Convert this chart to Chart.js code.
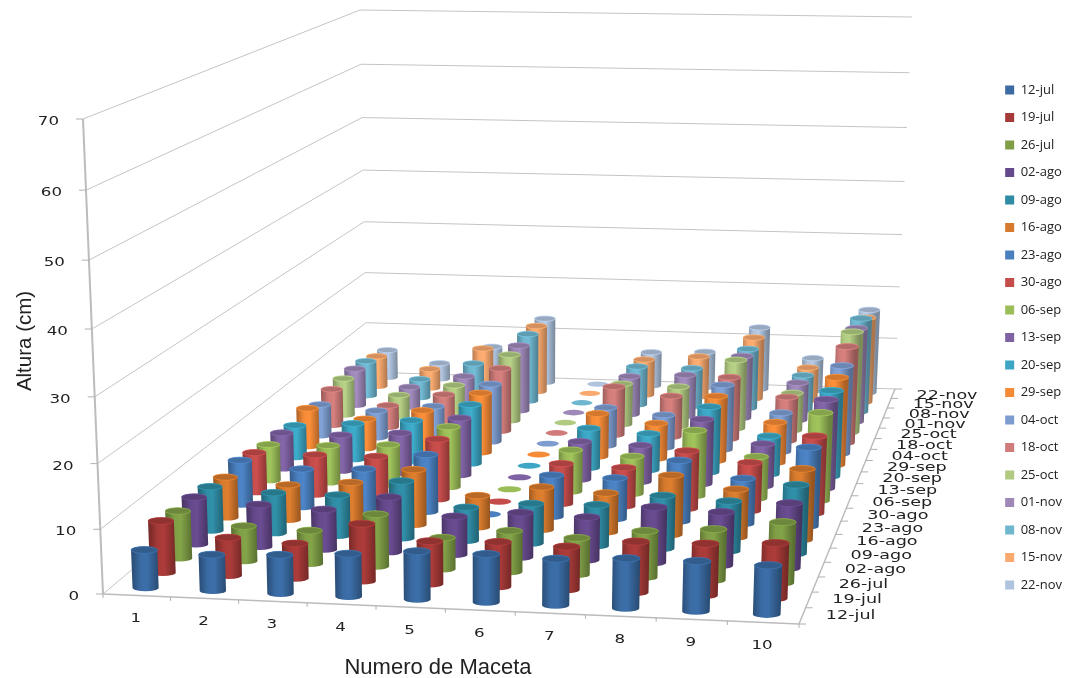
<!DOCTYPE html>
<html>
<head>
<meta charset="utf-8">
<title>Altura por maceta</title>
<script src="https://cdn.jsdelivr.net/npm/chart.js@4/dist/chart.umd.js"></script>
<style>
  html, body { margin: 0; padding: 0; background: #fff; }
  canvas { display: block; }
</style>
</head>
<body>
<canvas id="chart1" width="1066" height="678"></canvas>
<script>
const macetaLabels = ['1', '2', '3', '4', '5', '6', '7', '8', '9', '10'];
const fechas = ['12-jul', '19-jul', '26-jul', '02-ago', '09-ago', '16-ago', '23-ago', '30-ago', '06-sep', '13-sep',
  '20-sep', '29-sep', '04-oct', '18-oct', '25-oct', '01-nov', '08-nov', '15-nov', '22-nov'];
const alturaTicks = [0, 10, 20, 30, 40, 50, 60, 70];

// one list per maceta, one value per fecha (cm)
const maceta1 = [5.9, 8.2, 7.6, 7.7, 7.3, 6.8, 7.6, 6.9, 6.3, 6.4, 5.8, 7.0, 5.8, 6.8, 7.0, 7.1, 6.8, 6.0, 5.5];
const maceta2 = [5.6, 6.0, 5.6, 6.9, 6.7, 5.9, 6.5, 6.9, 6.5, 6.4, 6.5, 5.4, 5.0, 4.1, 4.2, 3.9, 3.6, 3.8, 3.2];
const maceta3 = [6.0, 5.5, 5.3, 6.5, 6.7, 6.7, 6.9, 7.0, 7.0, 7.1, 7.4, 7.3, 6.2, 6.5, 6.4, 6.3, 7.0, 8.2, 6.8];
const maceta4 = [6.6, 9.0, 8.3, 8.9, 9.4, 9.2, 9.7, 10.3, 10.5, 10.1, 10.6, 10.8, 10.6, 11.7, 12.5, 12.5, 13.0, 12.9, 12.7];
const maceta5 = [7.4, 6.7, 5.0, 6.2, 5.5, 5.3, 0, 0, 0, 0, 0, 0, 0, 0, 0, 0, 0, 0, 0];
const maceta6 = [7.4, 7.0, 6.5, 7.2, 6.5, 7.1, 7.0, 6.9, 7.2, 6.7, 7.1, 7.8, 7.0, 9.0, 7.7, 7.3, 7.4, 7.0, 6.7];
const maceta7 = [7.1, 6.7, 5.8, 6.9, 6.7, 6.5, 6.9, 6.6, 6.5, 6.4, 6.5, 6.4, 6.0, 7.6, 7.5, 7.9, 7.4, 7.9, 7.1];
const maceta8 = [7.6, 7.9, 7.3, 8.9, 8.6, 9.8, 10.2, 9.8, 11.3, 11.3, 11.6, 11.6, 11.8, 11.4, 12.8, 11.8, 11.4, 11.9, 12.2];
const maceta9 = [7.6, 8.0, 8.0, 8.5, 8.1, 7.9, 7.6, 8.2, 7.2, 7.4, 6.8, 7.3, 7.1, 8.1, 7.0, 7.1, 6.7, 6.4, 6.5];
const maceta10 = [7.4, 8.5, 9.5, 10.3, 11.1, 11.6, 13.1, 13.0, 15.0, 15.4, 15.1, 15.6, 15.9, 17.6, 18.6, 17.6, 17.8, 16.3, 16.2];
const macetas = [maceta1, maceta2, maceta3, maceta4, maceta5, maceta6, maceta7, maceta8, maceta9, maceta10];

const colores = ['#3a6ba3', '#a63a38', '#7f9e46', '#66498c', '#2f8ba3', '#d67a2d', '#4a80c0', '#c44c4a', '#9bbd58', '#7f62a3',
  '#3ca6c4', '#f58a37', '#7d9dd0', '#d07c7a', '#b1ca82', '#9d88b8', '#6fb6cf', '#f9a86e', '#afc3de'];

// the box of the 3d plot on screen: front left, front right, back right, back left
const floorBox = [[103, 594], [799, 624], [895, 389], [367, 372]];
const topBox = [[83, 119], [816, 132], [912, 17], [360, 10]];
const heightPersp = 1.057;
const radio = 0.0195;
const squash = 0.26;

function homography(p) {
  const [x0, y0] = p[0], [x1, y1] = p[1], [x2, y2] = p[2], [x3, y3] = p[3];
  const sx = x0 - x1 + x2 - x3, sy = y0 - y1 + y2 - y3;
  const dx1 = x1 - x2, dx2 = x3 - x2, dy1 = y1 - y2, dy2 = y3 - y2;
  const det = dx1 * dy2 - dx2 * dy1;
  const g = (sx * dy2 - dx2 * sy) / det, h = (dx1 * sy - sx * dy1) / det;
  const a = x1 - x0 + g * x1, b = x3 - x0 + h * x3, d = y1 - y0 + g * y1, e = y3 - y0 + h * y3;
  return (u, v) => {
    const w = g * u + h * v + 1;
    return [(a * u + b * v + x0) / w, (d * u + e * v + y0) / w];
  };
}
const floorAt = homography(floorBox);
const topAt = homography(topBox);

// u along macetas, v along fechas, t 0..1 up the altura scale
function project(u, v, t) {
  const f = floorAt(u, v), c = topAt(u, v);
  const k = t / (t + heightPersp * (1 - t));
  return [f[0] + (c[0] - f[0]) * k, f[1] + (c[1] - f[1]) * k];
}

function shade(hex, m) {
  const n = parseInt(hex.slice(1), 16);
  const c = [n >> 16, (n >> 8) & 255, n & 255].map(function (x) { return Math.min(255, Math.round(x * m)); });
  return 'rgb(' + c.join(',') + ')';
}

function cylinder(ctx, u, v, t, color) {
  const b = project(u, v, 0), a = project(u, v, t);
  const rxB = (project(u + radio, v, 0)[0] - project(u - radio, v, 0)[0]) / 2;
  const rxT = (project(u + radio, v, t)[0] - project(u - radio, v, t)[0]) / 2;
  if (t > 0) {
    const g = ctx.createLinearGradient(b[0] - rxB, 0, b[0] + rxB, 0);
    g.addColorStop(0, shade(color, 0.74));
    g.addColorStop(0.3, shade(color, 1.0));
    g.addColorStop(0.55, shade(color, 1.04));
    g.addColorStop(1, shade(color, 0.7));
    ctx.fillStyle = g;
    ctx.beginPath();
    ctx.ellipse(b[0], b[1], rxB, rxB * squash, 0, 0, Math.PI);
    ctx.lineTo(a[0] - rxT, a[1]);
    ctx.ellipse(a[0], a[1], rxT, rxT * squash, 0, Math.PI, 2 * Math.PI);
    ctx.closePath();
    ctx.fill();
  }
  ctx.fillStyle = shade(color, t > 0 ? 0.86 : 1);
  ctx.strokeStyle = shade(color, 1.12);
  ctx.lineWidth = 0.7;
  ctx.beginPath();
  ctx.ellipse(a[0], a[1], rxT, rxT * squash, 0, 0, 2 * Math.PI);
  ctx.fill();
  if (t > 0) ctx.stroke();
}

function wideText(ctx, text, x, y, stretch, align) {
  ctx.save();
  ctx.translate(x, y);
  ctx.scale(stretch, 1);
  ctx.textAlign = align;
  ctx.textBaseline = 'middle';
  ctx.fillText(text, 0, 0);
  ctx.restore();
}

function seg(ctx, a, b) {
  ctx.beginPath();
  ctx.moveTo(a[0], a[1]);
  ctx.lineTo(b[0], b[1]);
  ctx.stroke();
}

class CylinderController extends Chart.BarController {
  draw() {}
}
CylinderController.id = 'cylinder';
CylinderController.defaults = Chart.BarController.defaults;
Chart.register(CylinderController);

const box3d = {
  id: 'box3d',
  beforeDatasetsDraw(chart) {
    const ctx = chart.ctx, yS = chart.scales.y;
    const area = chart.chartArea;
    ctx.save();
    // walls
    ctx.strokeStyle = '#c4c4c4';
    ctx.lineWidth = 1;
    yS.ticks.forEach(function (tk) {
      const t = (area.bottom - yS.getPixelForValue(tk.value)) / area.height;
      seg(ctx, project(0, 0, t), project(0, 1, t));
      seg(ctx, project(0, 1, t), project(1, 1, t));
    });
    // axis lines
    ctx.strokeStyle = '#bcbcbc';
    ctx.lineWidth = 2;
    seg(ctx, project(0, 0, 0), project(0, 0, 1));
    ctx.lineWidth = 1.5;
    seg(ctx, project(0, 0, 0), project(1, 0, 0));
    seg(ctx, project(1, 0, 0), project(1, 1, 0));
    ctx.strokeStyle = '#b0b0b0';
    ctx.lineWidth = 1;
    yS.ticks.forEach(function (tk) {
      const p = project(0, 0, (area.bottom - yS.getPixelForValue(tk.value)) / area.height);
      seg(ctx, [p[0] - 7, p[1]], p);
    });
    for (let i = 0; i <= macetaLabels.length; i++) {
      const p = project(i / macetaLabels.length, 0, 0);
      seg(ctx, p, [p[0], p[1] + 4]);
    }
    for (let j = 0; j <= fechas.length; j++) {
      const p = project(1, j / fechas.length, 0);
      seg(ctx, p, [p[0] + 7, p[1]]);
    }
    ctx.restore();
  },
  afterDatasetsDraw(chart) {
    const ctx = chart.ctx, yS = chart.scales.y, xS = chart.scales.x, zS = chart.scales.z;
    const area = chart.chartArea;
    ctx.save();
    // back rows first so the front rows cover them
    for (let j = fechas.length - 1; j >= 0; j--) {
      const meta = chart.getDatasetMeta(j);
      const v = (zS.getPixelForValue(j) - area.left) / area.width;
      for (let i = 0; i < macetaLabels.length; i++) {
        const el = meta.data[i];
        const u = (el.x - area.left) / area.width;
        const t = (area.bottom - el.y) / area.height;
        cylinder(ctx, u, v, t, chart.data.datasets[j].backgroundColor);
      }
    }
    // axis text
    ctx.fillStyle = '#222';
    ctx.font = '11.5px "DejaVu Sans"';
    yS.ticks.forEach(function (tk) {
      const p = project(0, 0, (area.bottom - yS.getPixelForValue(tk.value)) / area.height);
      wideText(ctx, tk.label, p[0] - 24, p[1] + 3, 1.45, 'right');
    });
    macetaLabels.forEach(function (m, i) {
      const u = (xS.getPixelForValue(i) - area.left) / area.width;
      const p = project(u, 0, 0);
      wideText(ctx, m, p[0] - 1, p[1] + 24, 1.45, 'center');
    });
    ctx.font = '13px "DejaVu Sans"';
    fechas.forEach(function (f, j) {
      const v = (zS.getPixelForValue(j) - area.left) / area.width;
      const p = project(1, v, 0);
      wideText(ctx, f, p[0] + 23.5, p[1] + 2 * v, 1.35, 'left');
    });
    ctx.font = '22px "Liberation Sans"';
    ctx.textAlign = 'center';
    ctx.textBaseline = 'middle';
    ctx.fillText(xS.options.title.text, 438, 668);
    ctx.save();
    ctx.translate(25, 341);
    ctx.rotate(-Math.PI / 2);
    ctx.font = '20.5px "Liberation Sans"';
    ctx.fillText(yS.options.title.text, 0, 0);
    ctx.restore();
    ctx.restore();
  }
};

const ctx1 = document.getElementById('chart1').getContext('2d');
const chart1 = new Chart(ctx1, {
  type: 'cylinder',
  data: {
    labels: macetaLabels,
    datasets: fechas.map(function (f, j) {
      return {
        label: f,
        data: macetas.map(function (m) { return m[j]; }),
        backgroundColor: colores[j]
      };
    })
  },
  options: {
    responsive: false,
    animation: false,
    datasets: { cylinder: { grouped: false } },
    layout: { padding: { right: -6, bottom: 3 } },
    scales: {
      x: { type: 'category', offset: true, display: false, title: { text: 'Numero de Maceta' } },
      z: { type: 'category', axis: 'x', position: 'top', labels: fechas, offset: true, display: false },
      y: { min: 0, max: 70, display: false, afterBuildTicks: function (s) { s.ticks = alturaTicks.map(function (v) { return { value: v, label: String(v) }; }); }, title: { text: 'Altura (cm)' } }
    },
    plugins: {
      tooltip: { enabled: false },
      legend: {
        position: 'right',
        labels: {
          boxWidth: 9,
          boxHeight: 9,
          padding: 14.5,
          color: '#222',
          font: { family: '"Open Sans"', size: 13 }
        }
      }
    }
  },
  plugins: [box3d]
});
</script>
</body>
</html>
